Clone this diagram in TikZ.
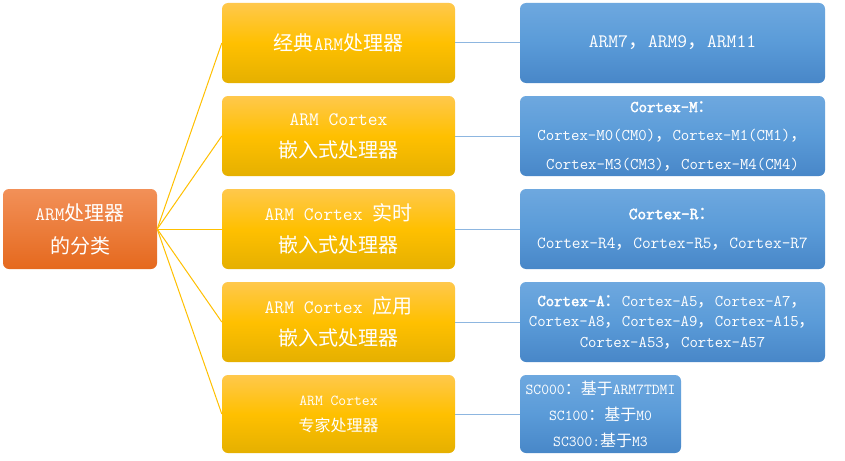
\documentclass[tikz,border=0pt]{standalone}
\usepackage{fontspec}
\setmonofont{Latin Modern Mono}[Scale=0.95]
\newfontfamily\cjk{Noto Sans CJK SC}
\newfontfamily\ttbold{Latin Modern Mono}[Scale=0.95,FakeBold=2.5]
\newcommand\zh[1]{{\cjk#1}}
\definecolor{otop}{HTML}{F29058}
\definecolor{obot}{HTML}{E5691E}
\definecolor{ytop}{HTML}{FFC84C}
\definecolor{ymid}{HTML}{FFC000}
\definecolor{ybot}{HTML}{E5B000}
\definecolor{btop}{HTML}{6EA8DF}
\definecolor{bmid}{HTML}{5A9BD8}
\definecolor{bbot}{HTML}{4887C8}
\definecolor{yline}{HTML}{FFC000}
\definecolor{bline}{HTML}{8DB6E0}
\begin{document}
\begin{tikzpicture}[x=1pt,y=-1pt,
  box/.style={rounded corners=6pt,inner sep=0pt,text=white,align=center},
  obox/.style={box,top color=otop,bottom color=obot,minimum width=154pt,minimum height=80pt,
    font=\ttfamily\fontsize{20}{33}\selectfont},
  ybox/.style={box,top color=ytop,bottom color=ybot,middle color=ymid,minimum width=233pt,minimum height=80pt,
    font=\ttfamily\fontsize{20}{32}\selectfont},
  bbox/.style={box,top color=btop,bottom color=bbot,middle color=bmid,minimum width=305pt,minimum height=80pt,
    font=\ttfamily\fontsize{17.2}{28.5}\selectfont},
  yconn/.style={draw=yline,line width=1pt},
  bconn/.style={draw=bline,line width=1pt}]
\useasboundingbox[fill=white] (0,0) rectangle (845,460);
% left
\node[obox] (o) at (80,229) {ARM\zh{处理器}\\\zh{的分类}};
% middle
\node[ybox] (y1) at (338.5,43) {\zh{经典}ARM\zh{处理器}};
\node[ybox] (y2) at (338.5,136) {ARM Cortex\\\zh{嵌入式处理器}};
\node[ybox] (y3) at (338.5,229) {ARM Cortex \zh{实时}\\\zh{嵌入式处理器}};
\node[ybox] (y4) at (338.5,322) {ARM Cortex \zh{应用}\\\zh{嵌入式处理器}};
\node[ybox,minimum height=78pt,font=\ttfamily\fontsize{16}{26}\selectfont] (y5) at (338.5,414) {ARM Cortex\\\zh{专家处理器}};
% right
\node[bbox,font=\ttfamily\fontsize{20}{30}\selectfont] (b1) at (672.5,43) {ARM7\zh{，}ARM9\zh{，}ARM11};
\node[bbox] (b2) at (672.5,136) {{\ttbold Cortex-M}\zh{：}\\Cortex-M0(CM0)\zh{，}Cortex-M1(CM1)\zh{，}\\Cortex-M3(CM3)\zh{，}Cortex-M4(CM4)};
\node[bbox,font=\ttfamily\fontsize{17.8}{29}\selectfont] (b3) at (672.5,229) {{\ttbold Cortex-R}\zh{：}\\Cortex-R4\zh{，}Cortex-R5\zh{，}Cortex-R7};
\node[bbox,font=\ttfamily\fontsize{17.2}{20.5}\selectfont] (b4) at (672.5,322) {{\ttbold Cortex-A}\zh{：}Cortex-A5\zh{，}Cortex-A7\zh{，}\\Cortex-A8\zh{，}Cortex-A9\zh{，}Cortex-A15\zh{，}\\Cortex-A53\zh{，}Cortex-A57};
\node[bbox,minimum width=161pt,minimum height=78pt,font=\ttfamily\fontsize{16}{26}\selectfont] (b5) at (600.5,414) {SC000\zh{：基于}ARM7TDMI\\SC100\zh{：基于}M0\\SC300:\zh{基于}M3};
% connectors
\foreach \i in {1,...,5}{
  \draw[yconn] (o.east) -- (y\i.west);
  \draw[bconn] (y\i.east) -- (b\i.west);
}
\end{tikzpicture}
\end{document}
